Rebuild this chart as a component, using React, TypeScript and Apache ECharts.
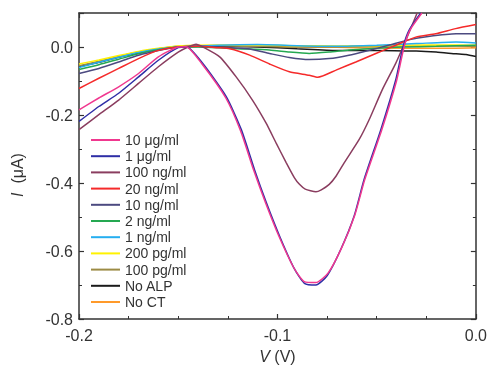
import React, { useEffect, useRef } from "react";
import * as echarts from "echarts";

type Pt = [number, number];

const legendNames = [
  "10 μg/ml", "1 μg/ml", "100 ng/ml", "20 ng/ml", "10 ng/ml", "2 ng/ml",
  "1 ng/ml", "200 pg/ml", "100 pg/ml", "No ALP", "No CT",
];
const colors = [
  "#f0388f", "#2e2ea6", "#8a3d5f", "#f52a2a", "#4c4a80", "#25a851",
  "#25aef0", "#fff200", "#9c8b45", "#1a1a1a", "#ff9a2a",
];

const xTicks = [-0.2, -0.1, 0.0];
const yTicks = [-0.8, -0.6, -0.4, -0.2, 0.0];

const s10ug: Pt[] = [
  [-0.2, -0.185], [-0.19, -0.15], [-0.18, -0.117], [-0.17, -0.078], [-0.16, -0.029],
  [-0.15, 0.0], [-0.146, 0.001], [-0.138, -0.05], [-0.126, -0.15], [-0.1185, -0.248],
  [-0.112, -0.362], [-0.106, -0.458], [-0.0993, -0.556], [-0.0917, -0.65],
  [-0.0865, -0.69], [-0.0806, -0.693], [-0.0745, -0.665], [-0.0676, -0.59],
  [-0.061, -0.494], [-0.056, -0.39], [-0.0475, -0.245], [-0.04, -0.1],
  [-0.0362, 0.0], [-0.0333, 0.049], [-0.0272, 0.1],
];
const s1ug: Pt[] = [
  [-0.2, -0.219], [-0.19, -0.175], [-0.18, -0.136], [-0.17, -0.088], [-0.16, -0.039],
  [-0.15, -0.002], [-0.1457, 0.0], [-0.1377, -0.048], [-0.1258, -0.146],
  [-0.1182, -0.243], [-0.1116, -0.36], [-0.1057, -0.456], [-0.099, -0.555],
  [-0.0915, -0.652], [-0.0864, -0.695], [-0.0806, -0.7], [-0.0749, -0.672],
  [-0.068, -0.594], [-0.0613, -0.496], [-0.0563, -0.389], [-0.0479, -0.243],
  [-0.0404, -0.097], [-0.0367, 0.0], [-0.0337, 0.049], [-0.0278, 0.1],
];
const s100ng: Pt[] = [
  [-0.2, -0.243], [-0.19, -0.199], [-0.18, -0.156], [-0.17, -0.107], [-0.16, -0.058],
  [-0.15, -0.015], [-0.145, 0.0], [-0.141, 0.008], [-0.1376, 0.0], [-0.1291, -0.029],
  [-0.1208, -0.088], [-0.1126, -0.156], [-0.1057, -0.224], [-0.1007, -0.282],
  [-0.0956, -0.34], [-0.0915, -0.384], [-0.0889, -0.404], [-0.086, -0.418],
  [-0.0806, -0.426], [-0.0779, -0.42], [-0.0739, -0.404], [-0.0705, -0.38],
  [-0.0663, -0.34], [-0.0588, -0.272], [-0.0538, -0.214], [-0.0472, -0.126],
  [-0.0404, -0.048], [-0.0353, 0.02], [-0.0296, 0.1],
];
const s20ng: Pt[] = [
  [-0.2, -0.122], [-0.19, -0.092], [-0.18, -0.063], [-0.17, -0.034], [-0.16, -0.01],
  [-0.15, 0.0], [-0.14, 0.002], [-0.13, -0.002], [-0.124, -0.005], [-0.114, -0.024],
  [-0.104, -0.05], [-0.094, -0.073], [-0.084, -0.083], [-0.0797, -0.089],
  [-0.0705, -0.068], [-0.0605, -0.044], [-0.0504, -0.019], [-0.0404, 0.005],
  [-0.0303, 0.029], [-0.0203, 0.039], [-0.0102, 0.054], [0.0, 0.066],
];
const s10ng: Pt[] = [
  [-0.2, -0.078], [-0.19, -0.063], [-0.18, -0.044], [-0.17, -0.024], [-0.16, -0.01],
  [-0.15, 0.0], [-0.14, 0.002], [-0.13, 0.0], [-0.115, -0.005], [-0.104, -0.019],
  [-0.094, -0.031], [-0.084, -0.037], [-0.074, -0.034], [-0.064, -0.024],
  [-0.054, -0.01], [-0.044, 0.005], [-0.034, 0.021], [-0.024, 0.031],
  [-0.01, 0.039], [0.0, 0.039],
];
const s2ng: Pt[] = [
  [-0.2, -0.066], [-0.19, -0.052], [-0.18, -0.036], [-0.17, -0.02], [-0.16, -0.008],
  [-0.15, 0.0], [-0.14, 0.0], [-0.13, -0.002], [-0.12, -0.005], [-0.104, -0.009],
  [-0.094, -0.015], [-0.084, -0.019], [-0.074, -0.015], [-0.064, -0.009],
  [-0.054, -0.005], [-0.037, 0.0], [-0.02, 0.002], [0.0, 0.005],
];
const s1ng: Pt[] = [
  [-0.2, -0.06], [-0.19, -0.045], [-0.18, -0.03], [-0.17, -0.016], [-0.16, -0.006],
  [-0.15, 0.0], [-0.13, 0.005], [-0.11, 0.007], [-0.09, 0.004], [-0.07, 0.002],
  [-0.05, 0.005], [-0.03, 0.01], [-0.01, 0.015], [0.0, 0.012],
];
const s200pg: Pt[] = [
  [-0.2, -0.05], [-0.19, -0.038], [-0.18, -0.025], [-0.17, -0.013], [-0.16, -0.004],
  [-0.15, 0.003], [-0.13, 0.006], [-0.11, 0.006], [-0.09, 0.004], [-0.07, 0.003],
  [-0.05, 0.004], [-0.03, 0.006], [-0.01, 0.006], [0.0, 0.005],
];
const s100pg: Pt[] = [
  [-0.2, -0.055], [-0.19, -0.042], [-0.18, -0.028], [-0.17, -0.015], [-0.16, -0.005],
  [-0.15, 0.002], [-0.13, 0.004], [-0.11, 0.002], [-0.09, 0.0], [-0.07, 0.0],
  [-0.05, 0.002], [-0.03, 0.003], [-0.01, 0.003], [0.0, 0.002],
];
const sNoALP: Pt[] = [
  [-0.2, -0.058], [-0.19, -0.045], [-0.18, -0.03], [-0.17, -0.017], [-0.16, -0.006],
  [-0.15, 0.0], [-0.13, 0.002], [-0.11, 0.0], [-0.09, -0.005], [-0.07, -0.01],
  [-0.05, -0.01], [-0.03, -0.012], [-0.02, -0.015], [-0.01, -0.02], [-0.005, -0.022],
  [0.0, -0.028],
];
const sNoCT: Pt[] = [
  [-0.2, -0.057], [-0.19, -0.044], [-0.18, -0.029], [-0.17, -0.016], [-0.16, -0.005],
  [-0.15, 0.001], [-0.13, 0.003], [-0.11, 0.002], [-0.09, 0.0], [-0.07, -0.001],
  [-0.05, -0.003], [-0.02, -0.004], [0.0, -0.002],
];

const seriesData: Pt[][] = [
  s10ug, s1ug, s100ng, s20ng, s10ng, s2ng, s1ng, s200pg, s100pg, sNoALP, sNoCT,
];

const fontFamily = "Liberation Sans, Arial, sans-serif";
const axisColor = "#333";
const textColor = "#333";

export default function App() {
  const ref = useRef<HTMLDivElement>(null);
  useEffect(() => {
    if (!ref.current) return;
    const chart = echarts.init(ref.current, undefined, { renderer: "svg" });
    const tickCommon = {
      axisLine: { show: true, onZero: false, lineStyle: { color: axisColor, width: 1.5 } },
      axisTick: { show: true, inside: true, length: 5, lineStyle: { color: axisColor, width: 1.2 } },
      minorTick: { show: true, length: 3, lineStyle: { color: axisColor, width: 1 } },
      splitLine: { show: false },
      minorSplitLine: { show: false },
    };
    const fmt = (v: number) => (Math.abs(v) < 1e-9 ? "0.0" : v.toFixed(1));
    chart.setOption({
      animation: false,
      color: colors,
      grid: { left: 79, right: 13, top: 13, bottom: 48, containLabel: false },
      legend: {
        data: legendNames,
        orient: "vertical",
        left: 91,
        top: 133,
        padding: 0,
        icon: "rect",
        itemWidth: 29,
        itemHeight: 2,
        itemGap: 2.2,
        textStyle: { fontFamily, fontSize: 14, lineHeight: 14, color: textColor },
      },
      graphic: [
        {
          type: "text",
          x: 17,
          y: 175,
          rotation: Math.PI / 2,
          style: {
            text: "{i|I}  (μA)",
            fontFamily,
            fontSize: 16,
            fill: textColor,
            align: "center",
            verticalAlign: "middle",
            rich: { i: { fontFamily, fontSize: 16, fontStyle: "italic", fill: textColor } },
          },
        },
      ],
      xAxis: [
        {
          type: "value",
          min: xTicks[0],
          max: xTicks[xTicks.length - 1],
          interval: 0.1,
          ...tickCommon,
          minorTick: { ...tickCommon.minorTick, splitNumber: 4 },
          axisLabel: {
            fontFamily, fontSize: 16, color: textColor, margin: 8,
            formatter: fmt,
          },
          name: "{i|V} (V)",
          nameLocation: "middle",
          nameGap: 29,
          nameTextStyle: {
            fontFamily, fontSize: 16, color: textColor,
            rich: { i: { fontFamily, fontSize: 16, fontStyle: "italic", color: textColor } },
          },
        },
        {
          type: "value",
          position: "top",
          min: xTicks[0],
          max: xTicks[xTicks.length - 1],
          interval: 0.1,
          ...tickCommon,
          minorTick: { ...tickCommon.minorTick, splitNumber: 4 },
          axisLabel: { show: false },
        },
      ],
      yAxis: [
        {
          type: "value",
          min: yTicks[0],
          max: 0.1,
          interval: 0.2,
          ...tickCommon,
          minorTick: { ...tickCommon.minorTick, splitNumber: 2 },
          axisLabel: {
            fontFamily, fontSize: 16, color: textColor, margin: 6,
            showMaxLabel: false,
            formatter: fmt,
          },
        },
        {
          type: "value",
          position: "right",
          min: yTicks[0],
          max: 0.1,
          interval: 0.2,
          ...tickCommon,
          minorTick: { ...tickCommon.minorTick, splitNumber: 2 },
          axisLabel: { show: false },
        },
      ],
      series: legendNames.map((name, i) => ({
        name,
        type: "line",
        data: seriesData[i],
        showSymbol: false,
        symbol: "none",
        smooth: 0.2,
        clip: true,
        lineStyle: { width: 1.5, color: colors[i] },
        itemStyle: { color: colors[i] },
        z: 20 - i,
      })),
    });
    return () => chart.dispose();
  }, []);
  return (
    <div
      ref={ref}
      style={{ position: "fixed", left: 0, top: 0, width: 490, height: 369 }}
    />
  );
}
